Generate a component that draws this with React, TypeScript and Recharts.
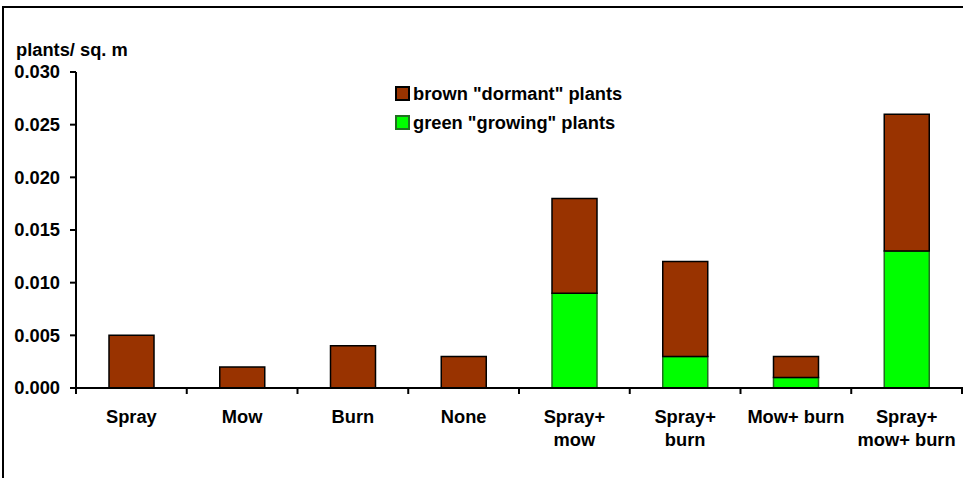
import { BarChart, Bar, XAxis, YAxis, Legend } from "recharts"

// treatment categories (line breaks as in the original labels)
const categories = [
  "Spray",
  "Mow",
  "Burn",
  "None",
  "Spray+\nmow",
  "Spray+\nburn",
  "Mow+ burn",
  "Spray+\nmow+ burn",
]

// plants per square metre
const greenPlants = [0, 0, 0, 0, 0.009, 0.003, 0.001, 0.013]
const brownPlants = [0.005, 0.002, 0.004, 0.003, 0.009, 0.009, 0.002, 0.013]

const yTicks = [0, 0.005, 0.01, 0.015, 0.02, 0.025, 0.03]

const BROWN = "#993300"
const GREEN = "#00FF00"
const FONT = "'Liberation Sans', Arial, sans-serif"
const FS = 18.3

const data = categories.map((name, i) => ({
  name,
  green: greenPlants[i],
  brown: brownPlants[i],
}))

const legendItems = [
  { label: 'brown "dormant" plants', color: BROWN, border: "#000" },
  { label: 'green "growing" plants', color: GREEN, border: "#207020" },
]

// category label plus a tick mark on the boundary between categories
function CategoryTick(props: any) {
  const { x, y, payload, index } = props
  const half = payload.offset || 0
  const lines = String(payload.value).split("\n")
  return (
    <g>
      <line x1={x - half} y1={y - 1} x2={x - half} y2={y + 6} stroke="#000" strokeWidth={2} />
      {index === categories.length - 1 && (
        <line x1={x + half} y1={y - 1} x2={x + half} y2={y + 6} stroke="#000" strokeWidth={2} />
      )}
      <text
        x={x}
        y={y}
        textAnchor="middle"
        fontFamily={FONT}
        fontWeight="bold"
        fontSize={FS}
        fill="#000"
      >
        {lines.map((line, i) => (
          <tspan key={i} x={x} dy={i === 0 ? 35 : 23}>
            {line}
          </tspan>
        ))}
      </text>
    </g>
  )
}

function LegendBox() {
  return (
    <div style={{ fontFamily: FONT, fontWeight: "bold", fontSize: FS, color: "#000" }}>
      {legendItems.map((item) => (
        <div key={item.label} style={{ display: "flex", alignItems: "center", height: 29 }}>
          <span
            style={{
              width: 11,
              height: 11,
              background: item.color,
              border: `2px solid ${item.border}`,
              marginRight: 3,
            }}
          />
          <span>{item.label}</span>
        </div>
      ))}
    </div>
  )
}

export default function App() {
  return (
    <div
      style={{
        position: "absolute",
        left: 0,
        top: 0,
        width: 963,
        height: 478,
        overflow: "hidden",
        background: "#fff",
      }}
    >
      <div
        style={{
          position: "absolute",
          left: 2,
          top: 6,
          width: 1000,
          height: 600,
          borderTop: "2px solid #000",
          borderLeft: "2px solid #000",
        }}
      />
      <div
        style={{
          position: "absolute",
          left: 16,
          top: 39,
          fontFamily: FONT,
          fontWeight: "bold",
          fontSize: FS,
          color: "#000",
        }}
      >
        plants/ sq. m
      </div>
      <div style={{ position: "absolute", left: 0, top: 0 }}>
        <BarChart
          width={963}
          height={478}
          data={data}
          margin={{ top: 72, right: 1, bottom: 0, left: 0 }}
          barSize={45}
        >
          <XAxis
            dataKey="name"
            height={90}
            interval={0}
            axisLine={{ stroke: "#000", strokeWidth: 2 }}
            tickLine={false}
            tickSize={0}
            tickMargin={0}
            tick={<CategoryTick />}
          />
          <YAxis
            width={76}
            domain={[0, 0.03]}
            ticks={yTicks}
            interval={0}
            tickFormatter={(v: number) => v.toFixed(3)}
            axisLine={{ stroke: "#000", strokeWidth: 2 }}
            tickLine={{ stroke: "#000", strokeWidth: 2 }}
            tickSize={6}
            tickMargin={10}
            tick={{ fill: "#000", fontFamily: FONT, fontWeight: "bold", fontSize: FS }}
          />
          <Legend
            layout="vertical"
            align="center"
            verticalAlign="middle"
            wrapperStyle={{ left: 395, top: 79, width: 270 }}
            content={<LegendBox />}
          />
          <Bar
            dataKey="green"
            stackId="a"
            fill={GREEN}
            stroke="#207020"
            strokeWidth={1.5}
            isAnimationActive={false}
          />
          <Bar
            dataKey="brown"
            stackId="a"
            fill={BROWN}
            stroke="#000"
            strokeWidth={1.5}
            isAnimationActive={false}
          />
        </BarChart>
      </div>
    </div>
  )
}
